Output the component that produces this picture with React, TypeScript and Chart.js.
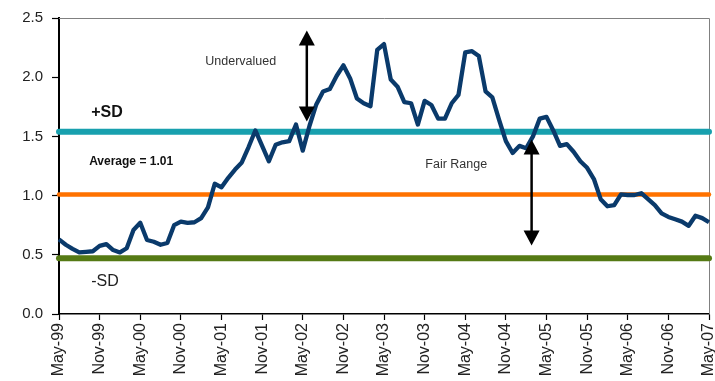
import React, { useEffect, useRef } from "react";
import { Chart, registerables } from "chart.js";

Chart.register(...registerables);

// Monthly axis, May-99 .. May-07
const MONTHS = ["Jan", "Feb", "Mar", "Apr", "May", "Jun", "Jul", "Aug", "Sep", "Oct", "Nov", "Dec"];
const categories: string[] = [];
for (let i = 0; i <= 96; i++) {
  const m = (4 + i) % 12;
  const y = 1999 + Math.floor((4 + i) / 12);
  categories.push(`${MONTHS[m]}-${String(y % 100).padStart(2, "0")}`);
}

// Valuation ratio, one value per month
const ratio = [
  0.63, 0.585, 0.55, 0.52, 0.525, 0.53, 0.575, 0.59, 0.54, 0.52, 0.555, 0.71,
  0.77, 0.625, 0.61, 0.585, 0.6, 0.75, 0.78, 0.77, 0.775, 0.81, 0.9, 1.1,
  1.07, 1.15, 1.22, 1.28, 1.41, 1.55, 1.42, 1.29, 1.43, 1.45, 1.46, 1.6,
  1.38, 1.59, 1.77, 1.88, 1.9, 2.01, 2.1, 1.99, 1.82, 1.78, 1.755, 2.23,
  2.28, 1.98, 1.92, 1.79, 1.78, 1.6, 1.8, 1.765, 1.65, 1.65, 1.78, 1.85,
  2.21, 2.22, 2.18, 1.88, 1.83, 1.64, 1.46, 1.36, 1.42, 1.4, 1.5, 1.65,
  1.665, 1.55, 1.42, 1.435, 1.37, 1.29, 1.235, 1.14, 0.97, 0.91, 0.92, 1.01,
  1.005, 1.005, 1.02, 0.97, 0.92, 0.85, 0.82, 0.8, 0.78, 0.745, 0.83, 0.81,
  0.775,
];

// Reference levels
const AVERAGE = 1.01;
const PLUS_SD = 1.54;
const MINUS_SD = 0.47;

const Y_TICKS = [0, 0.5, 1, 1.5, 2, 2.5];

const FONT = "'Liberation Sans', Arial, sans-serif";

const flat = (v: number) => categories.map(() => v);

// Plot frame, arrows and text notes
const notesPlugin = {
  id: "notes",
  beforeDatasetsDraw(chart: any) {
    const { ctx, chartArea } = chart;
    ctx.save();
    ctx.strokeStyle = "#808080";
    ctx.lineWidth = 1;
    ctx.beginPath();
    ctx.moveTo(chartArea.left, chartArea.top + 0.5);
    ctx.lineTo(chartArea.right + 0.5, chartArea.top + 0.5);
    ctx.lineTo(chartArea.right + 0.5, chartArea.bottom);
    ctx.stroke();
    ctx.restore();
  },
  afterDatasetsDraw(chart: any) {
    const { ctx } = chart;
    const xs = chart.scales.x;
    const ys = chart.scales.y;
    const px = (i: number) => xs.getPixelForValue(i);
    const py = (v: number) => ys.getPixelForValue(v);

    const head = (x: number, tipY: number, dir: number) => {
      ctx.beginPath();
      ctx.moveTo(x, tipY);
      ctx.lineTo(x - 8, tipY + dir * 15);
      ctx.lineTo(x + 8, tipY + dir * 15);
      ctx.closePath();
      ctx.fill();
    };
    const arrow = (i: number, top: number, bottom: number) => {
      const x = px(i);
      const y1 = py(top);
      const y2 = py(bottom);
      ctx.save();
      ctx.strokeStyle = "#000";
      ctx.fillStyle = "#000";
      ctx.lineWidth = 2.5;
      ctx.beginPath();
      ctx.moveTo(x, y1 + 10);
      ctx.lineTo(x, y2 - 10);
      ctx.stroke();
      head(x, y1, 1);
      head(x, y2, -1);
      ctx.restore();
    };
    arrow(36.6, 2.395, 1.625);
    arrow(69.8, 1.474, 0.578);

    const text = (s: string, i: number, v: number, font: string, color: string) => {
      ctx.save();
      ctx.font = font;
      ctx.fillStyle = color;
      ctx.textAlign = "left";
      ctx.textBaseline = "middle";
      ctx.fillText(s, px(i), py(v));
      ctx.restore();
    };
    text("Undervalued", 21.6, 2.135, `12.5px ${FONT}`, "#333");
    text("Fair Range", 54.1, 1.265, `12.5px ${FONT}`, "#333");
    text("+SD", 4.75, 1.7, `bold 16px ${FONT}`, "#111");
    text("Average = 1.01", 4.45, 1.29, `bold 12px ${FONT}`, "#111");
    text("-SD", 4.75, 0.27, `16px ${FONT}`, "#222");
  },
};

export default function App() {
  const ref = useRef<HTMLCanvasElement | null>(null);

  useEffect(() => {
    if (!ref.current) return;
    const chart = new Chart(ref.current, {
      type: "line",
      data: {
        labels: categories,
        datasets: [
          {
            label: "Ratio",
            data: ratio,
            borderColor: "#0a3a6b",
            borderWidth: 4.3,
            pointRadius: 0,
            tension: 0,
            borderJoinStyle: "round",
          },
          {
            label: "+SD",
            data: flat(PLUS_SD),
            borderColor: "#18a0ae",
            borderWidth: 6,
            pointRadius: 0,
            borderCapStyle: "round",
            clip: false,
          },
          {
            label: "Average",
            data: flat(AVERAGE),
            borderColor: "#ff7200",
            borderWidth: 4.5,
            pointRadius: 0,
            borderCapStyle: "round",
            clip: false,
          },
          {
            label: "-SD",
            data: flat(MINUS_SD),
            borderColor: "#557a14",
            borderWidth: 6,
            pointRadius: 0,
            borderCapStyle: "round",
            clip: false,
          },
        ],
      },
      options: {
        responsive: false,
        animation: false,
        devicePixelRatio: 1,
        layout: { padding: { top: 15, right: 6, left: 0, bottom: 0 } },
        plugins: {
          legend: { display: false },
          tooltip: { enabled: false },
        },
        scales: {
          x: {
            type: "category",
            offset: false,
            border: { color: "#000", width: 1.5 },
            grid: {
              drawOnChartArea: false,
              drawTicks: true,
              tickLength: 6,
              color: "#000",
              tickWidth: 1.2,
            },
            ticks: {
              autoSkip: false,
              maxRotation: 90,
              minRotation: 90,
              padding: 3,
              color: "#222",
              font: { family: FONT, size: 16 },
              callback: (_v: any, i: number) => (i % 6 === 0 ? categories[i] : null),
            },
            afterFit: (s: any) => {
              s.height = 67;
              s.paddingLeft = 0;
              s.paddingRight = 0;
            },
          },
          y: {
            min: Y_TICKS[0],
            max: Y_TICKS[Y_TICKS.length - 1],
            border: { color: "#000", width: 2 },
            grid: {
              drawOnChartArea: false,
              drawTicks: true,
              tickLength: 7,
              color: "#000",
              tickWidth: 1.2,
            },
            afterBuildTicks: (s: any) => {
              s.ticks = Y_TICKS.map((v) => ({ value: v }));
            },
            ticks: {
              padding: 9,
              color: "#222",
              font: { family: FONT, size: 15 },
              callback: (v: any) => Number(v).toFixed(1),
            },
            afterFit: (s: any) => {
              s.width = 59;
            },
          },
        },
      },
      plugins: [notesPlugin],
    });
    return () => chart.destroy();
  }, []);

  return (
    <canvas
      ref={ref}
      width={715}
      height={381}
      style={{ position: "absolute", left: 0, top: 0, width: 715, height: 381 }}
    />
  );
}
